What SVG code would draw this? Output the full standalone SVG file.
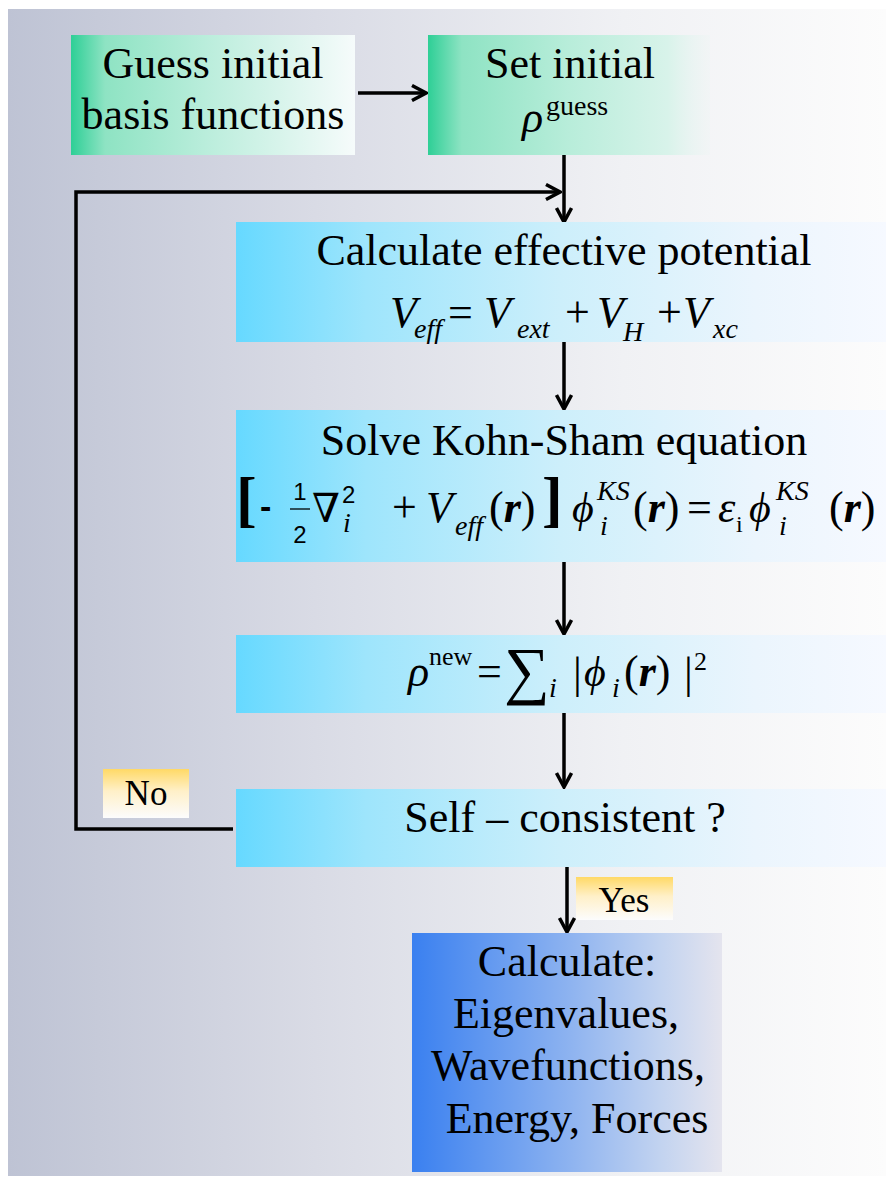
<svg xmlns="http://www.w3.org/2000/svg" width="886" height="1178" viewBox="0 0 886 1178">
<defs>
<linearGradient id="bg" x1="0" y1="0" x2="1" y2="0">
<stop offset="0" stop-color="#bec3d4"/>
<stop offset="0.35" stop-color="#d9dbe5"/>
<stop offset="0.7" stop-color="#f0f1f4"/>
<stop offset="1" stop-color="#fcfcfc"/>
</linearGradient>
<linearGradient id="green1" x1="0" y1="0" x2="1" y2="0">
<stop offset="0" stop-color="#2ecf96"/>
<stop offset="0.12" stop-color="#8ee3c3"/>
<stop offset="0.5" stop-color="#bdeedd"/>
<stop offset="1" stop-color="#f6fbfb"/>
</linearGradient>
<linearGradient id="green2" x1="0" y1="0" x2="1" y2="0">
<stop offset="0" stop-color="#2ecf96"/>
<stop offset="0.12" stop-color="#8ee3c3"/>
<stop offset="0.5" stop-color="#b8edda"/>
<stop offset="0.85" stop-color="#d8f3ea"/>
<stop offset="1" stop-color="#eef5f4" stop-opacity="0.4"/>
</linearGradient>
<linearGradient id="cyan" x1="0" y1="0" x2="1" y2="0">
<stop offset="0" stop-color="#66d9ff"/>
<stop offset="0.2" stop-color="#9ee5fc"/>
<stop offset="0.5" stop-color="#cdeffb"/>
<stop offset="0.8" stop-color="#ebf5fd"/>
<stop offset="1" stop-color="#f6f9ff"/>
</linearGradient>
<linearGradient id="blue" x1="0" y1="0" x2="1" y2="0">
<stop offset="0" stop-color="#3a80f0"/>
<stop offset="0.5" stop-color="#8cb2f0"/>
<stop offset="0.8" stop-color="#c2d3f0"/>
<stop offset="1" stop-color="#e4e4ee"/>
</linearGradient>
<linearGradient id="gold" x1="0" y1="0" x2="0" y2="1">
<stop offset="0" stop-color="#ffd966"/>
<stop offset="0.45" stop-color="#fff0c8"/>
<stop offset="1" stop-color="#fcfcfd"/>
</linearGradient>
<marker id="ah" viewBox="0 0 18 18" refX="16" refY="9" markerWidth="18" markerHeight="18" markerUnits="userSpaceOnUse" orient="auto">
<path d="M2,1.5 L16,9 L2,16.5" fill="none" stroke="#000" stroke-width="3.5"/>
</marker>
<style>
text{font-family:'Liberation Serif','Times New Roman','DejaVu Serif',serif;fill:#000}
.t{font-size:44px;text-anchor:middle}
.m{font-size:44px}
.i{font-style:italic}
.s{font-size:28px}
.bi{font-weight:bold;font-style:italic}
.sans{font-family:'Liberation Sans',Arial,sans-serif}
.lbl{font-size:35px;text-anchor:middle}
.conn{fill:none;stroke:#000;stroke-width:3.5}
</style>
</defs>
<rect x="0" y="0" width="886" height="1178" fill="#ffffff"/>
<rect x="8" y="9" width="878" height="1167" fill="url(#bg)"/>

<g id="connectors">
<line class="conn" x1="358" y1="93" x2="426" y2="93" marker-end="url(#ah)"/>
<line class="conn" x1="564" y1="155" x2="564" y2="222" marker-end="url(#ah)"/>
<polyline class="conn" points="233,829 76,829 76,192 560,192" marker-end="url(#ah)"/>
<line class="conn" x1="564" y1="342" x2="564" y2="409" marker-end="url(#ah)"/>
<line class="conn" x1="564" y1="562" x2="564" y2="634" marker-end="url(#ah)"/>
<line class="conn" x1="564" y1="713" x2="564" y2="787" marker-end="url(#ah)"/>
<line class="conn" x1="567" y1="867" x2="567" y2="932" marker-end="url(#ah)"/>
</g>

<g id="guess-basis">
<rect x="71" y="35" width="284" height="120" fill="url(#green1)"/>
<text class="t" x="213" y="78">Guess initial</text>
<text class="t" x="213" y="129">basis functions</text>
</g>

<g id="set-rho">
<rect x="428" y="35" width="282" height="120" fill="url(#green2)"/>
<text class="t" x="570" y="78">Set initial</text>
<text class="m"><tspan class="i" x="522" y="132">ρ</tspan><tspan x="546" y="115" font-size="28">guess</tspan></text>
</g>

<g id="effective-potential">
<rect x="236" y="222" width="650" height="120" fill="url(#cyan)"/>
<text class="t" x="564" y="265">Calculate effective potential</text>
<text class="m"><tspan class="i" x="390" y="327">V</tspan><tspan class="i" x="414" y="338" font-size="28">eff</tspan><tspan x="448" y="327">=</tspan><tspan class="i" x="484" y="327">V</tspan><tspan class="i" x="517" y="338" font-size="28">ext</tspan><tspan x="565" y="327">+</tspan><tspan class="i" x="597" y="327">V</tspan><tspan class="i" x="623" y="341" font-size="28">H</tspan><tspan x="657" y="327">+</tspan><tspan class="i" x="683" y="327">V</tspan><tspan class="i" x="713" y="338" font-size="28">xc</tspan></text>
</g>

<g id="kohn-sham">
<rect x="236" y="410" width="650" height="152" fill="url(#cyan)"/>
<text class="t" x="564" y="455">Solve Kohn-Sham equation</text>
<text x="236" y="520" font-size="62" font-weight="bold">[</text>
<text class="sans" x="260" y="518" font-size="34" font-weight="bold">-</text>
<text class="sans" font-size="24" text-anchor="middle"><tspan x="300" y="500">1</tspan><tspan x="300" y="543">2</tspan></text>
<line x1="290" y1="509" x2="310" y2="509" stroke="#000" stroke-width="1.3"/>
<text class="i" font-size="40"><tspan x="312" y="522">∇</tspan><tspan class="sans" font-style="normal" x="342" y="503" font-size="24">2</tspan><tspan x="343" y="532" font-size="28">i</tspan></text>
<text class="m"><tspan x="392" y="522">+</tspan><tspan class="i" x="426" y="522">V</tspan><tspan class="i" x="455" y="535" font-size="28">eff</tspan><tspan x="489" y="522">(</tspan><tspan class="bi">r</tspan><tspan>)</tspan></text>
<text x="542" y="520" font-size="62" font-weight="bold">]</text>
<text class="m"><tspan class="i" x="572" y="522" font-size="42">ϕ</tspan><tspan class="i" x="597" y="500" font-size="28">KS</tspan><tspan class="i" x="600" y="535" font-size="28">i</tspan><tspan x="633" y="522">(</tspan><tspan class="bi">r</tspan><tspan>)</tspan><tspan x="687" y="522">=</tspan><tspan class="i" x="718" y="522">ε</tspan><tspan x="736" y="532" font-size="24">i</tspan><tspan class="i" x="749" y="522" font-size="42">ϕ</tspan><tspan class="i" x="776" y="500" font-size="28">KS</tspan><tspan class="i" x="779" y="535" font-size="28">i</tspan><tspan x="829" y="522">(</tspan><tspan class="bi">r</tspan><tspan>)</tspan></text>
</g>

<g id="new-density">
<rect x="236" y="635" width="650" height="78" fill="url(#cyan)"/>
<text class="m"><tspan class="i" x="408" y="686">ρ</tspan><tspan x="429" y="665" font-size="26">new</tspan><tspan x="477" y="686">=</tspan><tspan x="504" y="692" font-size="64">∑</tspan><tspan class="i" x="549" y="697" font-size="28">i</tspan><tspan x="573" y="688">|</tspan><tspan class="i" x="584" y="686" font-size="42">ϕ</tspan><tspan class="i" x="612" y="697" font-size="28">i</tspan><tspan x="624" y="686">(</tspan><tspan class="bi">r</tspan><tspan>)</tspan><tspan x="684" y="688">|</tspan><tspan x="694" y="670" font-size="26">2</tspan></text>
</g>

<g id="self-consistent">
<rect x="236" y="789" width="650" height="78" fill="url(#cyan)"/>
<text class="t" x="565" y="832">Self – consistent ?</text>
</g>

<g id="label-no">
<rect x="103" y="769" width="86" height="49" fill="url(#gold)"/>
<text class="lbl" x="146" y="805">No</text>
</g>

<g id="label-yes">
<rect x="576" y="877" width="97" height="43" fill="url(#gold)"/>
<text class="lbl" x="624" y="912">Yes</text>
</g>

<g id="calculate-results">
<rect x="412" y="933" width="310" height="239" fill="url(#blue)"/>
<text class="t" x="567" y="976">Calculate:</text>
<text class="t" x="566" y="1028">Eigenvalues,</text>
<text class="t" x="568" y="1080">Wavefunctions,</text>
<text class="t" x="577" y="1133">Energy, Forces</text>
</g>
</svg>
